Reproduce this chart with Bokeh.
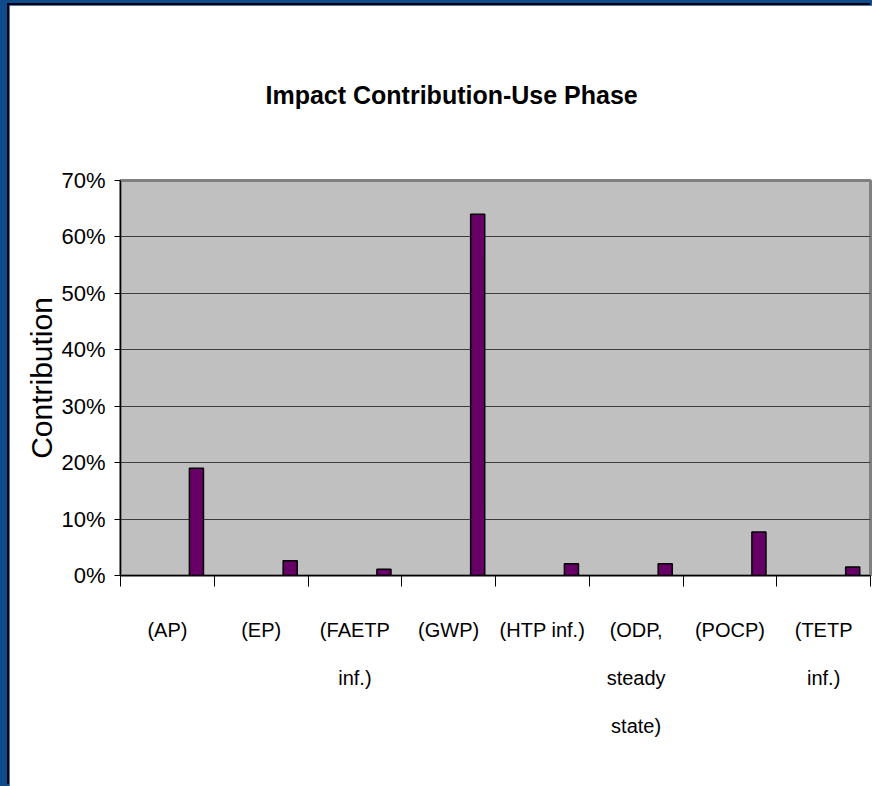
from bokeh.plotting import figure
from bokeh.models import (FactorRange, Range1d, LinearAxis, CategoricalAxis, FixedTicker,
                          NumeralTickFormatter, ColumnDataSource, Title, Grid,
                          CustomJSTickFormatter)
from bokeh.transform import dodge
from bokeh.layouts import column
from bokeh.embed import file_html
from bokeh.resources import INLINE

# ---- data ----
categories = ["(AP)", "(EP)", "(FAETP\ninf.)", "(GWP)", "(HTP inf.)",
              "(ODP,\nsteady\nstate)", "(POCP)", "(TETP\ninf.)"]
values = [0.19, 0.026, 0.011, 0.64, 0.021, 0.021, 0.077, 0.015]
y_ticks = [0.0, 0.1, 0.2, 0.3, 0.4, 0.5, 0.6, 0.7]
title_text = "Impact Contribution-Use Phase"
y_label = "Contribution"

FONT = "Liberation Sans"

src = ColumnDataSource(dict(cat=categories, val=values))

p = figure(x_range=FactorRange(factors=categories, range_padding=0, factor_padding=0),
           y_range=Range1d(0, 0.7),
           width=863, height=781, output_backend="svg", toolbar_location=None,
           x_axis_location=None, y_axis_location=None)
p.center = []
p.min_border_left = 111
p.min_border_top = 175
p.min_border_bottom = 211
p.min_border_right = 2
p.background_fill_color = "#c0c0c0"
p.border_fill_color = "white"
p.outline_line_color = "#808080"
p.outline_line_width = 3

p.title = Title(text=title_text, align="left", offset=145, standoff=140,
                vertical_align="top",
                text_font=FONT, text_font_style="bold", text_font_size="25px",
                text_color="black")

# y axis
yax = LinearAxis(ticker=FixedTicker(ticks=y_ticks),
                 formatter=NumeralTickFormatter(format="0%"),
                 axis_label=y_label,
                 axis_label_text_font=FONT, axis_label_text_font_size="30px",
                 axis_label_text_font_style="normal", axis_label_standoff=0,
                 axis_label_text_color="black",
                 major_label_text_font=FONT, major_label_text_font_size="22px",
                 major_label_text_color="black",
                 major_label_standoff=9, major_tick_out=6, major_tick_in=0,
                 minor_tick_line_color=None, axis_line_color="black",
                 major_tick_line_color="black")
p.add_layout(yax, "left")
p.add_layout(Grid(dimension=1, ticker=yax.ticker, grid_line_color="#3c3c3c",
                  grid_line_width=1))

# boundary ticks for x axis (synthetic coordinates of the factor range)
bax = LinearAxis(ticker=FixedTicker(ticks=list(range(len(categories) + 1))),
                 formatter=CustomJSTickFormatter(code="return ''"),
                 major_tick_out=11, major_tick_in=0, minor_tick_line_color=None,
                 major_label_text_font_size="1px", major_label_standoff=0,
                 axis_line_color="black", major_tick_line_color="black")
p.add_layout(bax, "below")

cax = CategoricalAxis(axis_line_color=None, major_tick_line_color=None,
                      minor_tick_line_color=None,
                      major_label_text_font=FONT, major_label_text_font_size="20px",
                      major_label_text_color="black",
                      major_label_text_line_height=2.2,
                      major_label_standoff=26)
p.add_layout(cax, "below")

p.vbar(x=dodge("cat", 0.31, range=p.x_range), top="val", width=0.15, source=src,
       fill_color="#660066", line_color="black", line_width=1.5)

p.margin = (5, 0, 0, 9)
p.styles = {"box-shadow": "-2px -2px 0 0 black"}

layout = column(p, styles={"background-color": "#0f4a8c"})

open("out.html", "w").write(file_html(layout, INLINE))
